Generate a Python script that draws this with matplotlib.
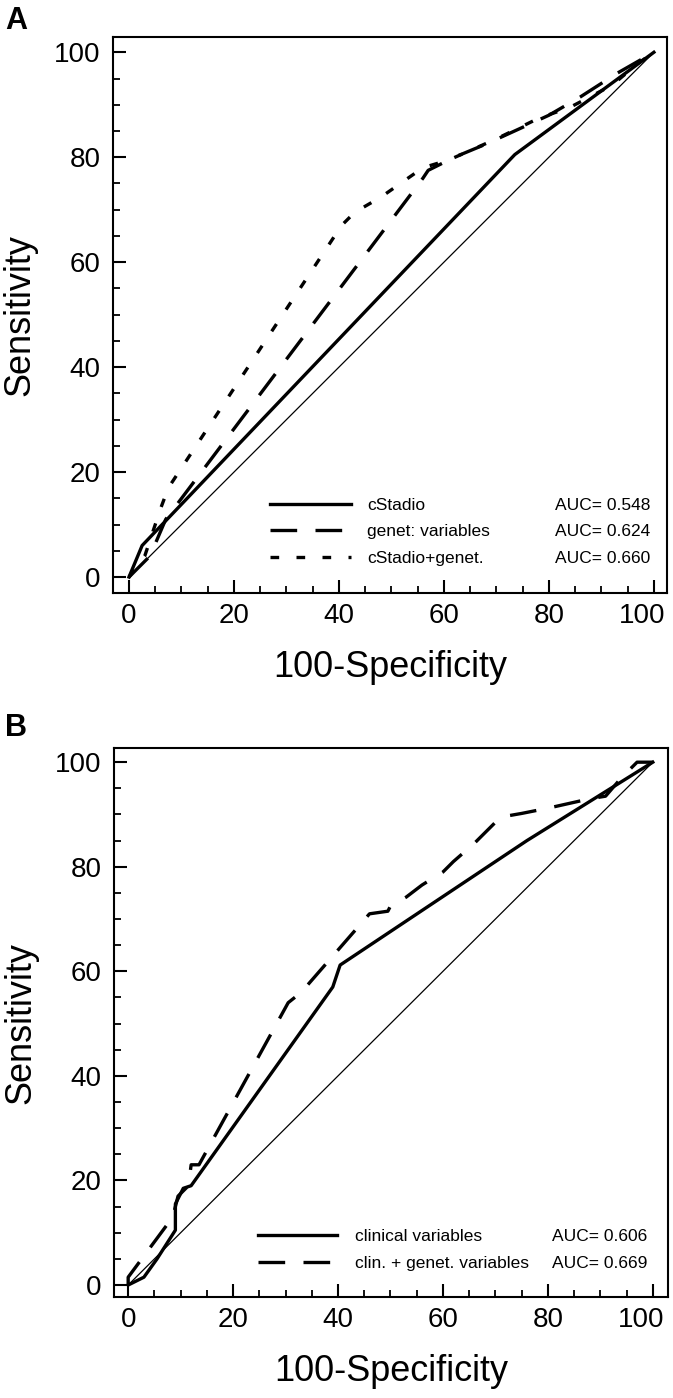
import numpy as np
import matplotlib.pyplot as plt
import matplotlib.transforms as mtransforms
from matplotlib.ticker import MultipleLocator

plt.rcParams['font.family'] = ['Liberation Sans', 'DejaVu Sans']

# panel A: ROC curves (100-specificity, sensitivity)
fpr_stadio = [0, 2.5, 73.5, 100]
tpr_stadio = [0, 6, 80.5, 100]
fpr_genet = [0, 2, 4, 7, 56, 57, 62, 68, 75, 80, 86, 93, 100]
tpr_genet = [0, 2, 4, 11, 76, 77.5, 80, 82.5, 85.7, 88, 91.5, 96, 100]
fpr_comb = [0, 3, 6, 7.5, 40.5, 43, 48, 52, 56, 61, 70, 78, 84, 92, 97, 100]
tpr_comb = [0, 4, 13, 17, 67, 69.5, 72.4, 75.2, 78, 79.5, 83.5, 87.4, 89.5, 93.7, 97.9, 100]
labels_a = ['cStadio', 'genet: variables', 'cStadio+genet.']
auc_a = [0.548, 0.624, 0.660]

# panel B
fpr_clin = [0, 3, 5.5, 9, 9, 10.5, 12, 39, 40.4, 76, 100]
tpr_clin = [0, 1.5, 5, 10.5, 15.5, 18.5, 19, 57, 61.2, 85, 100]
fpr_cg = [0, 0, 8.5, 9.5, 11.5, 12, 13.5, 30.5, 33, 46, 49.5, 50, 53, 56, 60, 62,
          66, 71, 75, 80, 88, 91, 94, 97, 100]
tpr_cg = [0, 1.5, 13, 17, 19, 23, 23, 54, 56, 71, 71.5, 72.5, 74.2, 76.5, 79, 81,
          84.5, 89.5, 90.2, 91.2, 93, 93.5, 97, 100, 100]
labels_b = ['clinical variables', 'clin. + genet. variables']
auc_b = [0.606, 0.669]

diag = [0, 100]
major_ticks = [0, 20, 40, 60, 80, 100]

LW = 2.4
DASH = (8, 5.5)
DOT = (2.6, 5.2)


def style_axes(ax, xlim, ylim):
    ax.set_xlim(*xlim)
    ax.set_ylim(*ylim)
    for s in ax.spines.values():
        s.set_linewidth(1.5)
    ax.set_xticks(major_ticks)
    ax.set_yticks(major_ticks)
    ax.xaxis.set_minor_locator(MultipleLocator(5))
    ax.yaxis.set_minor_locator(MultipleLocator(5))
    ax.tick_params(which='major', direction='in', length=9.5, width=1.5, labelsize=20)
    ax.tick_params(which='minor', direction='in', length=5, width=1.3)
    ax.tick_params(axis='x', which='major', pad=7)
    ax.tick_params(axis='y', which='major', pad=9)
    ax.set_xlabel('100-Specificity', fontsize=26)
    ax.set_ylabel('Sensitivity', fontsize=26)
    ax.xaxis.set_label_coords(0.5, -0.103)
    ax.yaxis.set_label_coords(-0.137, 0.5)


fig = plt.figure(figsize=(6.73, 13.98), dpi=100)
ax1 = fig.add_axes([0.1679, 0.5758, 0.8232, 0.3977])
ax2 = fig.add_axes([0.1694, 0.0722, 0.8232, 0.3927])

# ---- A
ax1.plot(diag, diag, color='black', lw=0.9)
l1, = ax1.plot(fpr_stadio, tpr_stadio, color='black', lw=LW, label=labels_a[0])
l2, = ax1.plot(fpr_genet, tpr_genet, color='black', lw=LW, dashes=DASH, label=labels_a[1])
l3, = ax1.plot(fpr_comb, tpr_comb, color='black', lw=LW, dashes=DOT, label=labels_a[2])
style_axes(ax1, (-3.05, 102.5), (-3.05, 102.9))
leg1 = ax1.legend(handles=[l1, l2, l3], loc='upper left', bbox_to_anchor=(0.283, 0.171),
                  frameon=False, fontsize=12.5, handlelength=4.7, handletextpad=0.92,
                  labelspacing=0.64, borderpad=0, borderaxespad=0)

# ---- B
ax2.plot(diag, diag, color='black', lw=0.9)
m1, = ax2.plot(fpr_clin, tpr_clin, color='black', lw=LW, label=labels_b[0])
m2, = ax2.plot(fpr_cg, tpr_cg, color='black', lw=LW, dashes=DASH, label=labels_b[1])
style_axes(ax2, (-2.7, 102.9), (-2.3, 102.7))
leg2 = ax2.legend(handles=[m1, m2], loc='upper left', bbox_to_anchor=(0.26, 0.124),
                  frameon=False, fontsize=12.5, handlelength=4.55, handletextpad=1.03,
                  labelspacing=0.68, borderpad=0, borderaxespad=0)

# AUC values next to the legend rows
fig.canvas.draw()
shift = mtransforms.ScaledTranslation(-12 / 100, 0, fig.dpi_scale_trans)
for ax, leg, aucs, xpos in [(ax1, leg1, auc_a, 0.798), (ax2, leg2, auc_b, 0.791)]:
    inv = ax.transAxes.inverted()
    for t, a in zip(leg.get_texts(), aucs):
        bb = t.get_window_extent()
        yc = inv.transform((0, (bb.y0 + bb.y1) / 2))[1]
        ax.text(xpos, yc, 'AUC= %.3f' % a, transform=ax.transAxes, fontsize=12.5,
                va='center', ha='left')
    # "100" at the right end sits a little inside, as in the original
    for tick in ax.xaxis.get_major_ticks():
        if tick.label1.get_text() == '100':
            tick.label1.set_transform(tick.label1.get_transform() + shift)

fig.text(5 / 673, 1 - 21 / 1398, 'A', fontsize=22, fontweight='bold', va='center')
fig.text(5 / 673, 1 - 728 / 1398, 'B', fontsize=22, fontweight='bold', va='center')

fig.savefig('out.png', dpi=100)
